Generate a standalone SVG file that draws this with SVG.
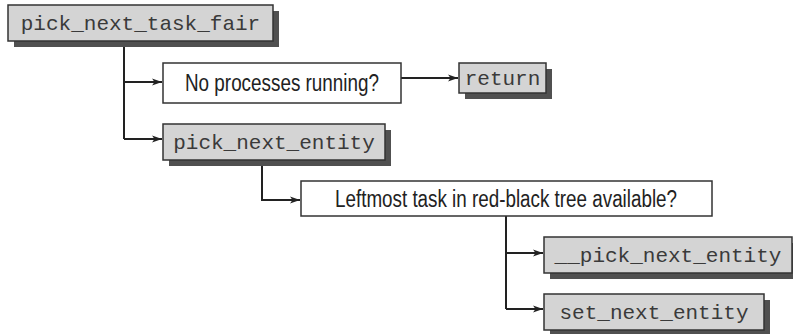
<svg xmlns="http://www.w3.org/2000/svg" width="793" height="334" viewBox="0 0 793 334">
  <defs>
    <marker id="arr" viewBox="0 0 10 10" refX="10" refY="5" markerWidth="10" markerHeight="10" markerUnits="userSpaceOnUse" orient="auto">
      <path d="M0,1.5 L10,5 L0,8.5 L2.5,5 Z" fill="#222"/>
    </marker>
  </defs>
  <style>
    .shadow { fill: #505050; stroke: none; }
    .gbox { fill: #d4d4d4; stroke: #333; stroke-width: 1.5; }
    .wbox { fill: #ffffff; stroke: #333; stroke-width: 1.5; }
    .mono { font-family: "Liberation Mono", "Courier New", monospace; font-size: 21px; fill: #3a3a3a; text-anchor: middle; }
    .sans { font-family: "Liberation Sans", Arial, sans-serif; font-size: 23px; fill: #222; text-anchor: middle; }
    .conn { fill: none; stroke: #222; stroke-width: 2; }
  </style>
  <rect width="793" height="334" fill="#fff"/>

  <g id="connectors">
    <path class="conn" d="M124,41 V139"/>
    <path class="conn" d="M124,82 H162" marker-end="url(#arr)"/>
    <path class="conn" d="M124,139 H162" marker-end="url(#arr)"/>
    <path class="conn" d="M401,78 H458" marker-end="url(#arr)"/>
    <path class="conn" d="M262,160 V200 H300" marker-end="url(#arr)"/>
    <path class="conn" d="M506,216 V309"/>
    <path class="conn" d="M506,253 H543" marker-end="url(#arr)"/>
    <path class="conn" d="M506,309 H543" marker-end="url(#arr)"/>
  </g>

  <g id="pick_next_task_fair">
    <rect class="shadow" x="14" y="11" width="265" height="36"/>
    <rect class="gbox" x="8" y="5" width="265" height="36"/>
    <text class="mono" x="140.5" y="30">pick_next_task_fair</text>
  </g>

  <g id="no_processes">
    <rect class="wbox" x="163" y="63" width="238" height="40"/>
    <text class="sans" x="282" y="91" textLength="194" lengthAdjust="spacingAndGlyphs">No processes running?</text>
  </g>

  <g id="return">
    <rect class="shadow" x="465" y="69" width="87" height="30"/>
    <rect class="gbox" x="459" y="63" width="87" height="30"/>
    <text class="mono" x="502.5" y="85">return</text>
  </g>

  <g id="pick_next_entity">
    <rect class="shadow" x="169" y="130" width="222" height="36"/>
    <rect class="gbox" x="163" y="124" width="222" height="36"/>
    <text class="mono" x="274" y="149">pick_next_entity</text>
  </g>

  <g id="leftmost">
    <rect class="wbox" x="301" y="181" width="411" height="35"/>
    <text class="sans" x="506" y="207" textLength="342" lengthAdjust="spacingAndGlyphs">Leftmost task in red-black tree available?</text>
  </g>

  <g id="__pick_next_entity">
    <rect class="shadow" x="550" y="243" width="248" height="36"/>
    <rect class="gbox" x="544" y="237" width="248" height="36"/>
    <text class="mono" x="668" y="262">__pick_next_entity</text>
  </g>

  <g id="set_next_entity">
    <rect class="shadow" x="550" y="300" width="220" height="36"/>
    <rect class="gbox" x="544" y="294" width="220" height="36"/>
    <text class="mono" x="654" y="319">set_next_entity</text>
  </g>
</svg>
